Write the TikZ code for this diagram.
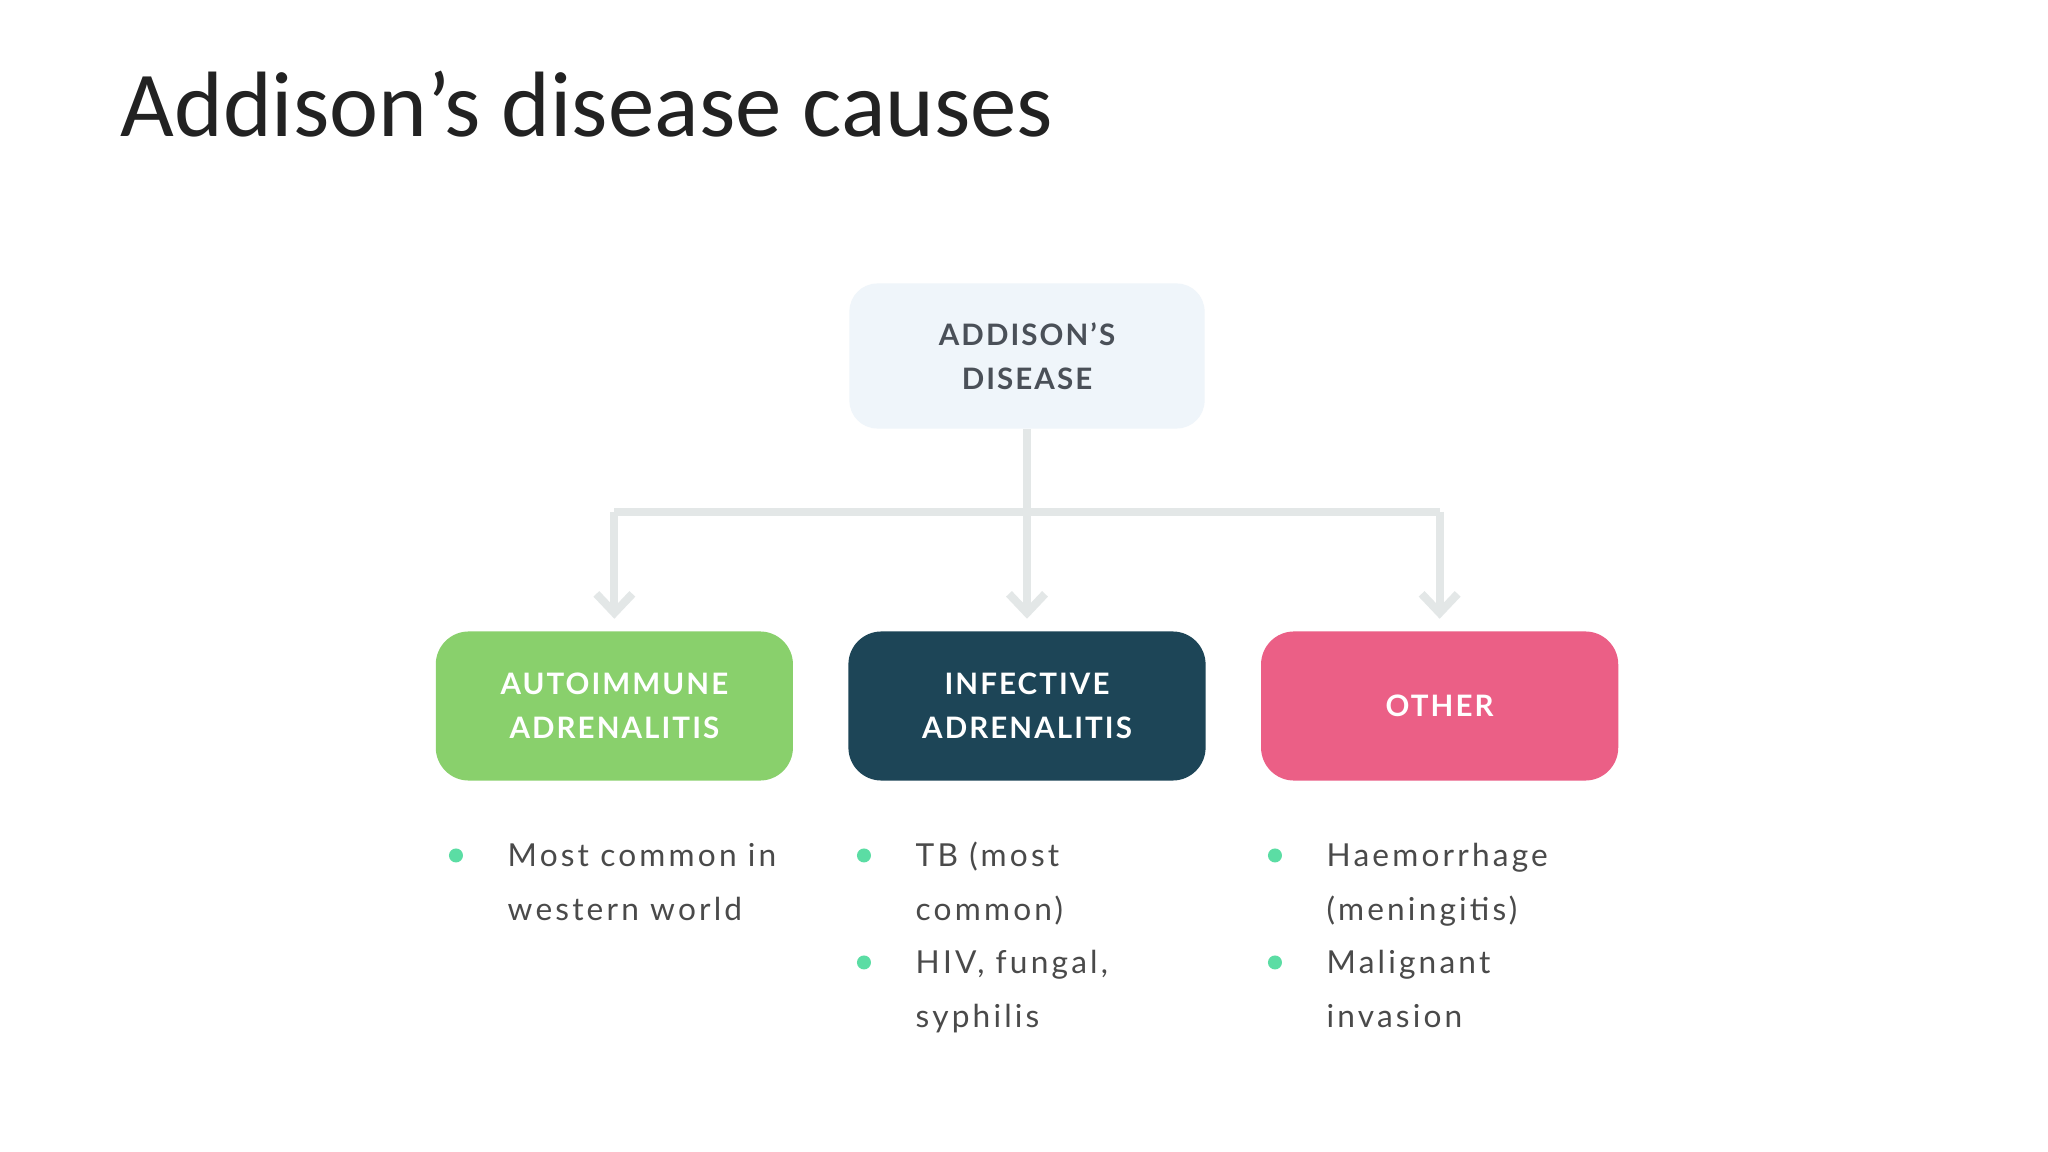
\documentclass[tikz,border=0pt]{standalone}
\usepackage{fontspec}
\usepackage{xcolor}
\usetikzlibrary{positioning,arrows.meta}

\newfontfamily\titlefont{Carlito}
\newfontfamily\boxfont[LetterSpace=7]{Lato}
\newfontfamily\itemfont[LetterSpace=10]{Lato}

\definecolor{titleblack}{HTML}{222222}
\definecolor{rootfill}{HTML}{EFF5FA}
\definecolor{roottext}{HTML}{4A5058}
\definecolor{autogreen}{HTML}{89D06C}
\definecolor{infectblue}{HTML}{1D4557}
\definecolor{otherpink}{HTML}{EB5F86}
\definecolor{linkgray}{HTML}{E3E7E7}
\definecolor{mint}{HTML}{5BDDA4}
\definecolor{itemtext}{HTML}{4A4A4A}

\tikzset{
  title/.style={anchor=base west,inner sep=0pt,text=titleblack,
    font=\titlefont\fontsize{26.4}{32}\selectfont},
  box/.style={rounded corners=0.33cm,minimum width=3.57cm,minimum height=1.49cm,
    align=center,text=white,inner sep=0pt,
    font=\boxfont\bfseries\fontsize{8.4}{12.6}\selectfont},
  rootbox/.style={box,fill=rootfill,text=roottext,minimum width=3.55cm,
    minimum height=1.45cm,rounded corners=0.28cm},
  link/.style={draw=linkgray,line width=2.3pt},
  item/.style={anchor=base west,inner sep=0pt,align=left,text=itemtext,
    font=\itemfont\fontsize{9}{15.2}\selectfont},
  dot/.style={circle,fill=mint,inner sep=0pt,minimum size=0.14cm}
}

\begin{document}
\begin{tikzpicture}[x=0.01cm,y=-0.01cm,node distance=0.54cm]
  \useasboundingbox[fill=white] (0,0) rectangle (2048,1152);

  \node[title] (title) at (120,137) {Addison’s disease causes};

  % tree
  \node[rootbox] (disease) at (1027,356) {ADDISON’S\\DISEASE};
  \node[box,fill=infectblue] (infect) at (1027,706) {INFECTIVE\\ADRENALITIS};
  \node[box,fill=autogreen,left=of infect] (auto) {AUTOIMMUNE\\ADRENALITIS};
  \node[box,fill=otherpink,right=of infect] (other) {OTHER};

  \coordinate (fork) at (1027,512);
  \draw[link] (disease) -- (fork);
  \draw[link] (fork -| auto) -- (fork -| other);
  \foreach \n in {auto,infect,other}
    \draw[link,-{Straight Barb[length=0.19cm,width=0.36cm]},shorten >=0.12cm] (fork -| \n) -- (\n);

  % bullet lists (base = last line)
  \node[item] (i1) at (507,920) {Most common in\\western world};
  \node[item] (i2) at (915,920) {TB (most\\common)};
  \node[item] (i3) at (915,1027) {HIV, fungal,\\syphilis};
  \node[item] (i4) at (1326,920) {Haemorrhage\\(meningitis)};
  \node[item] (i5) at (1326,1027) {Malignant\\invasion};
  \foreach \i in {1,...,5}
    \node[dot] (d\i) at ([xshift=-0.51cm,yshift=0.645cm]i\i.base west) {};
\end{tikzpicture}
\end{document}
